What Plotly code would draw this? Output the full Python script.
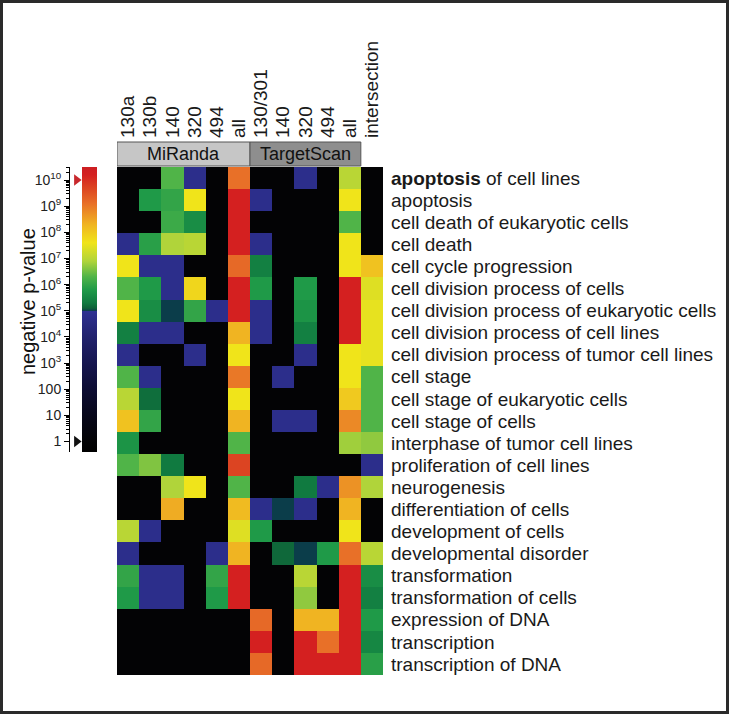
import math
import plotly.graph_objects as go

W, H = 729, 714

col_labels = ["130a", "130b", "140", "320", "494", "all",
              "130/301", "140", "320", "494", "all", "intersection"]

row_labels = [
    "<b>apoptosis</b> of cell lines", "apoptosis", "cell death of eukaryotic cells",
    "cell death", "cell cycle progression", "cell division process of cells",
    "cell division process of eukaryotic cells", "cell division process of cell lines",
    "cell division process of tumor cell lines", "cell stage", "cell stage of eukaryotic cells",
    "cell stage of cells", "interphase of tumor cell lines", "proliferation of cell lines",
    "neurogenesis", "differentiation of cells", "development of cells",
    "developmental disorder", "transformation", "transformation of cells",
    "expression of DNA", "transcription", "transcription of DNA",
]

# -log10(p) values (0 = not significant / black)
miranda = [
    [0, 0, 6.3, 4.8, 0, 9.1],
    [0, 5.8, 6.0, 7.6, 0, 10.2],
    [0, 0, 6.1, 5.6, 0, 10.2],
    [4.8, 5.9, 6.9, 7.0, 0, 10.2],
    [7.6, 4.8, 4.8, 0, 0, 9.2],
    [6.3, 5.8, 4.8, 7.8, 0, 10.2],
    [7.6, 5.6, 5.0, 6.0, 4.8, 10.2],
    [5.4, 4.8, 4.8, 0, 0, 8.3],
    [4.8, 0, 0, 4.8, 0, 7.6],
    [6.3, 4.8, 0, 0, 0, 9.0],
    [7.0, 5.2, 0, 0, 0, 7.6],
    [8.1, 6.0, 0, 0, 0, 8.3],
    [5.7, 0, 0, 0, 0, 6.3],
    [6.3, 6.6, 5.3, 0, 0, 9.7],
    [0, 0, 6.9, 7.6, 0, 6.3],
    [0, 0, 8.4, 0, 0, 8.2],
    [7.0, 4.8, 0, 0, 0, 7.4],
    [4.8, 0, 0, 0, 4.8, 8.3],
    [6.0, 4.8, 4.8, 0, 6.0, 10.2],
    [5.8, 4.8, 4.8, 0, 5.8, 10.2],
    [0, 0, 0, 0, 0, 0],
    [0, 0, 0, 0, 0, 0],
    [0, 0, 0, 0, 0, 0],
]

targetscan = [
    [0, 0, 4.8, 0, 7.0],
    [4.8, 0, 0, 0, 7.6],
    [0, 0, 0, 0, 6.3],
    [4.8, 0, 0, 0, 7.6],
    [5.4, 0, 0, 0, 7.6],
    [5.8, 0, 5.8, 0, 10.2],
    [4.8, 0, 5.7, 0, 10.2],
    [4.8, 0, 5.4, 0, 10.2],
    [0, 0, 4.8, 0, 7.6],
    [0, 4.8, 0, 0, 7.6],
    [0, 0, 0, 0, 8.0],
    [0, 4.8, 4.8, 0, 8.8],
    [0, 0, 0, 0, 6.8],
    [0, 0, 0, 0, 0],
    [0, 0, 5.3, 4.8, 8.7],
    [4.8, 5.0, 4.8, 0, 8.3],
    [5.8, 0, 0, 0, 7.6],
    [0, 5.15, 5.0, 5.8, 9.1],
    [0, 0, 7.0, 0, 10.2],
    [0, 0, 6.7, 0, 10.2],
    [9.2, 0, 8.3, 8.3, 10.2],
    [10.2, 0, 10.2, 9.1, 10.2],
    [9.2, 0, 10.2, 10.2, 10.2],
]

intersection = [0, 0, 0, 0, 8.1, 7.4, 7.5, 7.5, 7.5, 6.3, 6.3, 6.3, 6.7,
                4.8, 6.9, 0, 0, 7.0, 5.6, 5.4, 5.8, 5.5, 5.9]

groups = [("MiRanda", 0, 5, "#c6c6c6"), ("TargetScan", 6, 10, "#8e8e8e")]

cbar_tickvals = list(range(0, 11))
cbar_ticktext = ["1", "10", "100"] + ["10<sup>%d</sup>" % k for k in range(3, 11)]
marker_levels = [10, 0]
marker_colors = ["#c8282c", "#111111"]

z = [miranda[i] + targetscan[i] + [intersection[i]] for i in range(len(row_labels))]

zmin, zmax = -0.4, 10.5
stops = [
    (-0.4, "#000000"), (0, "#030305"), (1, "#07071a"), (2, "#0d0d33"),
    (3, "#16164f"), (4, "#21226d"), (4.99, "#2e3192"), (5.0, "#0b3d4a"),
    (5.1, "#0e6238"), (5.3, "#107a40"), (5.8, "#1f9a48"), (6.3, "#50b448"),
    (6.9, "#b0d43a"), (7.6, "#f0e41a"), (8.3, "#f0b422"), (9.1, "#e87028"),
    (9.7, "#dc4422"), (10.2, "#d42020"), (10.5, "#cc1e22"),
]
colorscale = [[(v - zmin) / (zmax - zmin), c] for v, c in stops]

font_family = "Liberation Sans, Arial, Helvetica, sans-serif"

fig = go.Figure()
fig.add_trace(go.Heatmap(
    z=z, x=list(range(len(col_labels))), y=list(range(len(row_labels))),
    colorscale=colorscale, zmin=zmin, zmax=zmax,
    colorbar=dict(x=82 / W, xanchor="left", xref="paper", y=1 - 167 / H, yanchor="top",
                  len=285, lenmode="pixels", thickness=15, thicknessmode="pixels",
                  xpad=0, ypad=0, outlinewidth=0, showticklabels=False, ticks=""),
    xgap=0, ygap=0, hoverinfo="skip",
))

fig.add_trace(go.Scatter(
    x=[0.55] * len(marker_levels), y=marker_levels, xaxis="x2", yaxis="y2",
    mode="markers", cliponaxis=False, showlegend=False, hoverinfo="skip",
    marker=dict(symbol="triangle-right", size=10, color=marker_colors, line=dict(width=0)),
))

minor_vals = []
for d in range(0, 11):
    for k in range(2, 10):
        v = d + math.log10(k)
        if v <= zmax:
            minor_vals.append(v)

fig.update_layout(
    width=W, height=H, margin=dict(l=0, r=0, t=0, b=0, autoexpand=False),
    paper_bgcolor="white", plot_bgcolor="white",
    font=dict(family=font_family, color="#1a1a1a"),
    showlegend=False,
    xaxis=dict(domain=[117 / W, 383 / W], range=[-0.5, 11.5], side="top", automargin=False,
               tickmode="array", tickvals=list(range(len(col_labels))), ticktext=col_labels,
               tickangle=-90, ticks="", showline=False, showgrid=False, zeroline=False,
               tickfont=dict(size=19), ticklabelstandoff=28),
    yaxis=dict(domain=[1 - 675 / H, 1 - 167 / H], range=[22.5, -0.5], side="right",
               automargin=False,
               tickmode="array", tickvals=list(range(len(row_labels))), ticktext=row_labels,
               ticks="", showline=False, showgrid=False, zeroline=False,
               tickfont=dict(size=19), ticklabelstandoff=7),
    xaxis2=dict(domain=[70 / W, 82 / W], range=[0, 1], visible=False, anchor="y2",
                automargin=False),
    yaxis2=dict(domain=[1 - 452 / H, 1 - 167 / H], range=[zmin, zmax], anchor="x2", side="left",
                automargin=False,
                tickmode="array", tickvals=cbar_tickvals, ticktext=cbar_ticktext,
                ticks="outside", ticklen=5, tickwidth=1, tickcolor="black",
                showline=True, linecolor="black", linewidth=1, showgrid=False, zeroline=False,
                tickfont=dict(size=14, color="#222"),
                minor=dict(tickmode="array", tickvals=minor_vals, ticks="outside",
                           ticklen=3, tickcolor="black", tickwidth=1, showgrid=False)),
)

shapes = []
annotations = []
for name, c0, c1, fill in groups:
    shapes.append(dict(type="rect", xref="x", yref="paper", x0=c0 - 0.5, x1=c1 + 0.5,
                       y0=1 - 166 / H, y1=1 - 142 / H, fillcolor=fill,
                       line=dict(color="#555555", width=1)))
    annotations.append(dict(text=name, xref="x", yref="paper", x=(c0 + c1) / 2, y=1 - 154 / H,
                            showarrow=False, font=dict(size=18, color="#111"),
                            xanchor="center", yanchor="middle"))
shapes.append(dict(type="rect", xref="paper", yref="paper", x0=0, x1=1, y0=0, y1=1,
                   line=dict(color="#2a2a2a", width=6), fillcolor="rgba(0,0,0,0)"))
annotations.append(dict(text="negative p-value", xref="paper", yref="paper",
                        x=28 / W, y=1 - 302 / H, textangle=-90, showarrow=False,
                        font=dict(size=20, color="#111"), xanchor="center", yanchor="middle"))
fig.update_layout(shapes=shapes, annotations=annotations)

fig.write_html("out.html", config={"displayModeBar": False},
               post_script="document.body.style.margin='0';document.body.style.padding='0';"
                           "document.body.style.overflow='hidden';")
